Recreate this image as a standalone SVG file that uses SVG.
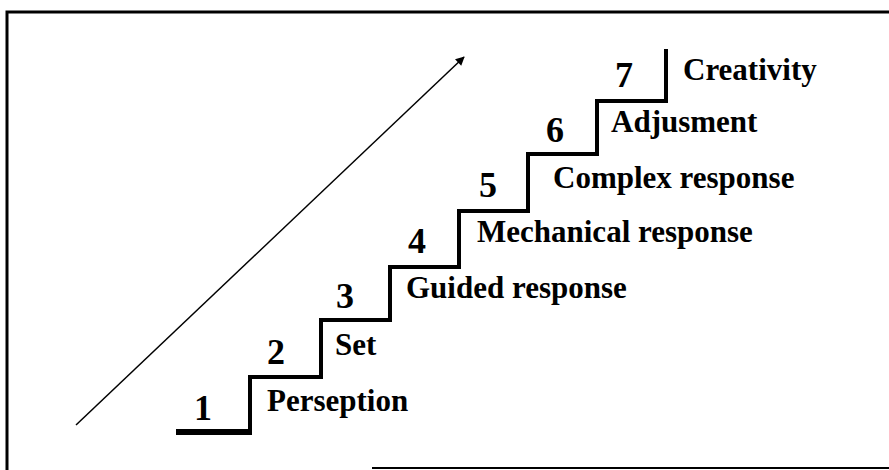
<svg xmlns="http://www.w3.org/2000/svg" width="889" height="470" viewBox="0 0 889 470">
  <style>
    .lbl { font-family: "Liberation Serif", "Times New Roman", serif; font-weight: bold; font-size: 31px; fill: #000; }
    .num { font-family: "Liberation Serif", "Times New Roman", serif; font-weight: bold; font-size: 36px; fill: #000; text-anchor: middle; }
    .frame { stroke: #000; fill: none; }
  </style>
  <defs>
    <marker id="arrow" viewBox="0 0 10 10" refX="9" refY="5" markerWidth="10" markerHeight="9" markerUnits="userSpaceOnUse" orient="auto">
      <path d="M0,0 L10,5 L0,10 Z" fill="#000"/>
    </marker>
  </defs>
  <rect width="889" height="470" fill="#fff"/>
  <g id="frame">
    <path class="frame" d="M889 12 H7 V470" stroke-width="3"/>
    <line class="frame" x1="372" y1="468" x2="889" y2="468" stroke-width="2"/>
  </g>
  <g id="connectors">
    <line x1="76" y1="425" x2="464" y2="57" stroke="#000" stroke-width="1.5" marker-end="url(#arrow)"/>
  </g>
  <g id="stairs">
    <path d="M250 432 V377 H321 V320 H390 V267 H459 V211 H528 V154 H597 V101 H666 V51" fill="none" stroke="#000" stroke-width="4" stroke-linejoin="miter" stroke-linecap="square"/>
    <line x1="176" y1="432" x2="252" y2="432" stroke="#000" stroke-width="6"/>
  </g>
  <g id="step1"><text class="num" x="203" y="420">1</text><text class="lbl" x="267" y="411">Perseption</text></g>
  <g id="step2"><text class="num" x="276" y="364">2</text><text class="lbl" x="335" y="355">Set</text></g>
  <g id="step3"><text class="num" x="345" y="308">3</text><text class="lbl" x="406" y="298">Guided response</text></g>
  <g id="step4"><text class="num" x="417" y="253">4</text><text class="lbl" x="477" y="242">Mechanical response</text></g>
  <g id="step5"><text class="num" x="488" y="197">5</text><text class="lbl" x="553" y="188">Complex response</text></g>
  <g id="step6"><text class="num" x="555" y="142">6</text><text class="lbl" x="611" y="132">Adjusment</text></g>
  <g id="step7"><text class="num" x="624" y="87">7</text><text class="lbl" x="683" y="80">Creativity</text></g>
</svg>
